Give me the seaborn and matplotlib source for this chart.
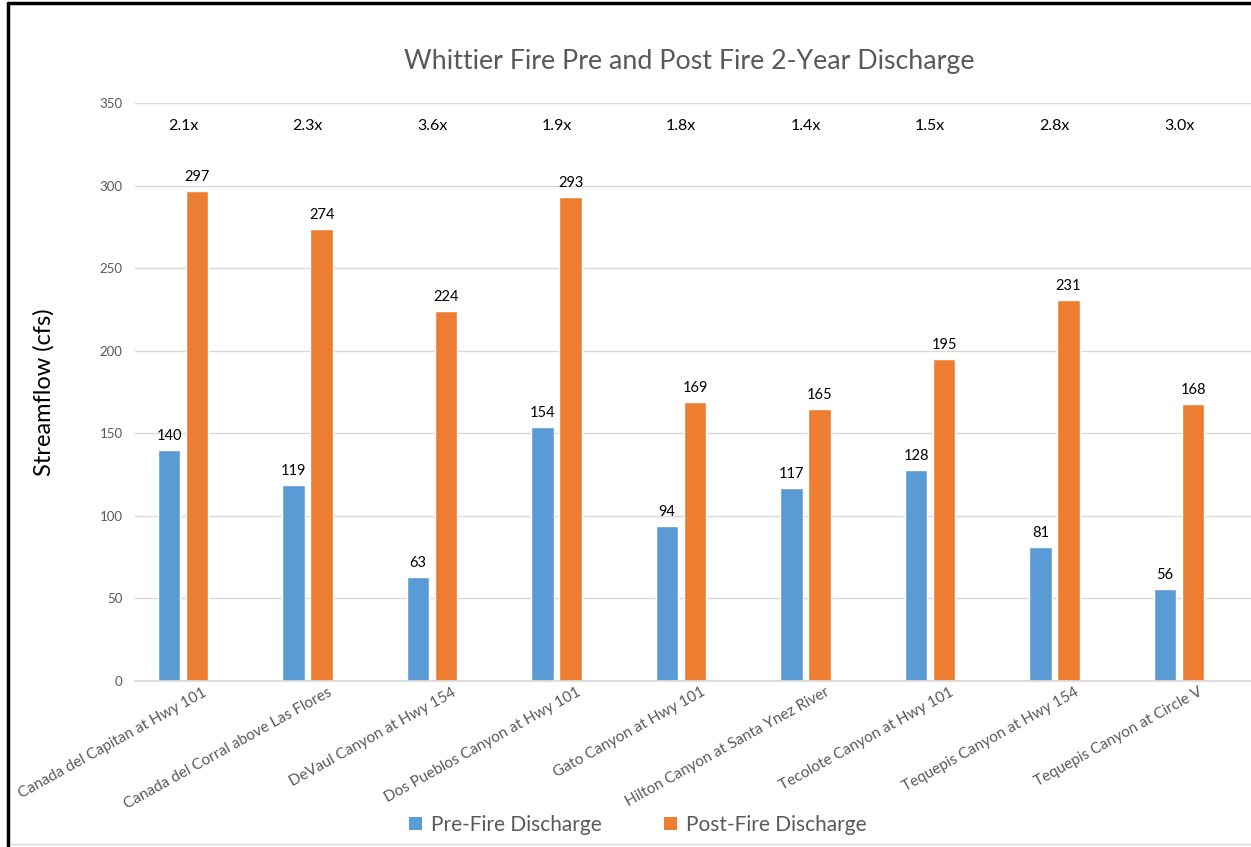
import matplotlib
matplotlib.use("Agg")
import matplotlib.pyplot as plt
import matplotlib.transforms as mtransforms
import seaborn as sns
import pandas as pd
from matplotlib.lines import Line2D
from matplotlib.patches import Patch

categories = [
    "Canada del Capitan at Hwy 101",
    "Canada del Corral above Las Flores",
    "DeVaul Canyon at Hwy 154",
    "Dos Pueblos Canyon at Hwy 101",
    "Gato Canyon at Hwy 101",
    "Hilton Canyon at Santa Ynez River",
    "Tecolote Canyon at Hwy 101",
    "Tequepis Canyon at Hwy 154",
    "Tequepis Canyon at Circle V",
]
pre_fire = [140, 119, 63, 154, 94, 117, 128, 81, 56]
post_fire = [297, 274, 224, 293, 169, 165, 195, 231, 168]
ratio_labels = ["2.1x", "2.3x", "3.6x", "1.9x", "1.8x", "1.4x", "1.5x", "2.8x", "3.0x"]
series_names = ["Pre-Fire Discharge", "Post-Fire Discharge"]
colors = ["#5B9BD5", "#ED7D31"]

sns.set_theme(style="white")
plt.rcParams["font.family"] = ["Lato", "DejaVu Sans"]

df = pd.DataFrame({
    "Site": categories * 2,
    "Series": [series_names[0]] * len(categories) + [series_names[1]] * len(categories),
    "Value": pre_fire + post_fire,
})

fig = plt.figure(figsize=(12.51, 8.47), dpi=100)
ax = fig.add_axes([0.108, 0.196, 0.892, 0.682])

sns.barplot(data=df, x="Site", y="Value", hue="Series", order=categories,
            hue_order=series_names, palette=colors, width=0.45, gap=0.2,
            saturation=1, ax=ax, legend=False, errorbar=None)

ax.set_ylim(0, 350)
ax.set_xlim(-0.386, 8.578)
ax.set_yticks(range(0, 351, 50))
ax.yaxis.grid(True, color="#D9D9D9", linewidth=1)
ax.set_axisbelow(True)
for s in ["top", "right", "left"]:
    ax.spines[s].set_visible(False)
ax.spines["bottom"].set_color("#D9D9D9")
ax.tick_params(axis="y", colors="#595959", labelsize=9.5, length=0, pad=9)
ax.tick_params(axis="x", colors="#595959", labelsize=11, length=0, pad=3)
ax.set_xlabel("")
ax.set_ylabel("Streamflow (cfs)", fontsize=17, color="black", labelpad=32)
offset = mtransforms.ScaledTranslation(14 / 72, 0, fig.dpi_scale_trans)
for lab in ax.get_xticklabels():
    lab.set_rotation(29)
    lab.set_ha("right")
    lab.set_rotation_mode("anchor")
    lab.set_transform(lab.get_transform() + offset)

# value labels
for cont in ax.containers:
    ax.bar_label(cont, labels=[f"{int(round(v))}" for v in cont.datavalues],
                 padding=5, fontsize=10.5, color="black")

# ratio labels
for i, r in enumerate(ratio_labels):
    ax.text(i, 336, r, ha="center", va="center", fontsize=11.5, color="black")

fig.text(0.551, 0.927, "Whittier Fire Pre and Post Fire 2-Year Discharge",
         ha="center", va="center", fontsize=19.3, color="#595959")

handles = [Patch(facecolor=c, edgecolor="none") for c in colors]
fig.legend(handles, series_names, loc="center", bbox_to_anchor=(0.51, 0.026),
           ncol=2, frameon=False, fontsize=15, labelcolor="#595959",
           handlelength=0.6, handleheight=0.6, columnspacing=3.0, handletextpad=0.45)

# frame lines
fig.add_artist(Line2D([0.0065, 0.0065], [0, 0.996], color="black", linewidth=2.5,
                      transform=fig.transFigure))
fig.add_artist(Line2D([0.0065, 1], [0.996, 0.996], color="black", linewidth=2.5,
                      transform=fig.transFigure))
fig.add_artist(Line2D([0.008, 1], [0.003, 0.003], color="#D9D9D9", linewidth=1,
                      transform=fig.transFigure))

fig.savefig("out.png", dpi=100)
